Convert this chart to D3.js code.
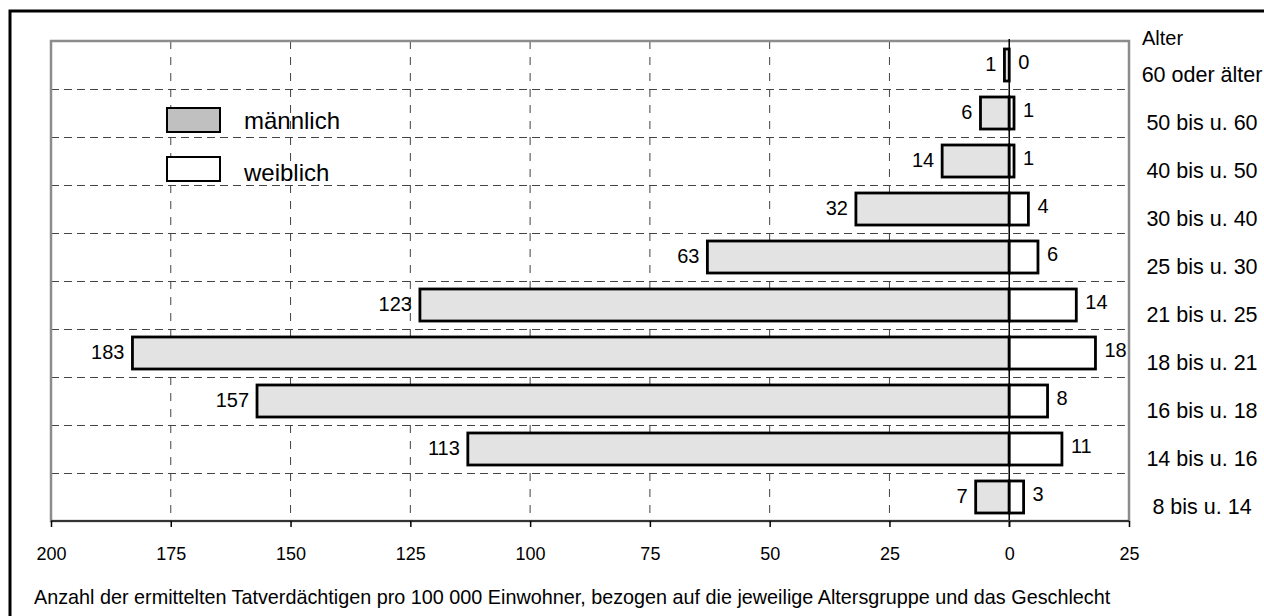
<!DOCTYPE html>
<html>
<head>
<meta charset="utf-8">
<script src="https://cdn.jsdelivr.net/npm/d3@7"></script>
<style>
  body { margin: 0; background: #fff; }
  svg { display: block; font-family: "Liberation Sans", Arial, sans-serif; }
</style>
</head>
<body>
<div id="chart"></div>
<script>
// age groups, top to bottom
const ageGroups = ["60 oder älter", "50 bis u. 60", "40 bis u. 50", "30 bis u. 40", "25 bis u. 30",
  "21 bis u. 25", "18 bis u. 21", "16 bis u. 18", "14 bis u. 16", "8 bis u. 14"];
const maleValues = [1, 6, 14, 32, 63, 123, 183, 157, 113, 7];
const femaleValues = [0, 1, 1, 4, 6, 14, 18, 8, 11, 3];
const tickValues = [-200, -175, -150, -125, -100, -75, -50, -25, 0, 25];
const legendLabels = ["männlich", "weiblich"];
const footerText = "Anzahl der ermittelten Tatverdächtigen pro 100 000 Einwohner, bezogen auf die jeweilige Altersgruppe und das Geschlecht";

const width = 1264, height = 616;
const plot = { left: 51, right: 1129, top: 41, bottom: 521 };

const svg = d3.select("#chart").append("svg")
  .attr("width", width)
  .attr("height", height);

// outer frame (runs off the picture at right and bottom)
svg.append("rect")
  .attr("x", 10).attr("y", 11)
  .attr("width", 1300).attr("height", 700)
  .attr("fill", "none")
  .attr("stroke", "#000")
  .attr("stroke-width", 3);

const x = d3.scaleLinear().domain([-200, 25]).range([plot.left, plot.right]);
const y = d3.scaleBand().domain(ageGroups).range([plot.top, plot.bottom]).paddingInner(0.333).paddingOuter(0.1667);
const band = d3.scaleBand().domain(ageGroups).range([plot.top, plot.bottom]);

// grid
const grid = svg.append("g");
grid.selectAll("line.v")
  .data(tickValues.filter(t => t > -200 && t < 0))
  .join("line")
  .attr("x1", d => x(d)).attr("x2", d => x(d))
  .attr("y1", plot.top).attr("y2", plot.bottom)
  .attr("stroke", "#444").attr("stroke-width", 1)
  .attr("stroke-dasharray", "8,8");
grid.selectAll("line.h")
  .data(ageGroups.slice(1))
  .join("line")
  .attr("x1", plot.left).attr("x2", plot.right)
  .attr("y1", d => band(d) + 0.5).attr("y2", d => band(d) + 0.5)
  .attr("stroke", "#444").attr("stroke-width", 1)
  .attr("stroke-dasharray", "8,5");

// plot border (gray)
svg.append("rect")
  .attr("x", plot.left).attr("y", plot.top)
  .attr("width", plot.right - plot.left).attr("height", plot.bottom - plot.top)
  .attr("fill", "none")
  .attr("stroke", "#8c8c8c")
  .attr("stroke-width", 2.5);

// bars
const bars = svg.append("g");
bars.selectAll("rect.m")
  .data(ageGroups)
  .join("rect")
  .attr("x", (d, i) => x(-maleValues[i]))
  .attr("y", d => y(d))
  .attr("width", (d, i) => x(0) - x(-maleValues[i]))
  .attr("height", y.bandwidth())
  .attr("fill", "#e3e3e3")
  .attr("stroke", "#000")
  .attr("stroke-width", 2.8);
bars.selectAll("rect.f")
  .data(ageGroups.filter((d, i) => femaleValues[i] > 0))
  .join("rect")
  .attr("x", x(0))
  .attr("y", d => y(d))
  .attr("width", d => x(femaleValues[ageGroups.indexOf(d)]) - x(0))
  .attr("height", y.bandwidth())
  .attr("fill", "#fff")
  .attr("stroke", "#000")
  .attr("stroke-width", 2.8);

// zero line
svg.append("line")
  .attr("x1", x(0)).attr("x2", x(0))
  .attr("y1", plot.top - 2).attr("y2", plot.bottom + 6)
  .attr("stroke", "#000").attr("stroke-width", 1.5);

// x axis
const axis = svg.append("g").attr("transform", `translate(0,${plot.bottom})`)
  .call(d3.axisBottom(x).tickValues(tickValues).tickSize(6).tickPadding(20).tickFormat(d => Math.abs(d)));
axis.select(".domain").attr("stroke", "#333").attr("stroke-width", 2).attr("d", `M${plot.left},0H${plot.right}`);
axis.selectAll(".tick line").attr("stroke", "#000").attr("stroke-width", 1.5);
axis.selectAll(".tick text")
  .attr("fill", "#000")
  .style("font-size", "18px")
  .style("font-family", "'Liberation Sans', Arial, sans-serif");

// value labels
const labels = svg.append("g").style("font-size", "20px").attr("fill", "#000");
labels.selectAll("text.m")
  .data(ageGroups)
  .join("text")
  .attr("x", (d, i) => x(-maleValues[i]) - 8)
  .attr("y", d => band(d) + band.bandwidth() / 2)
  .attr("dy", "0.3em")
  .attr("text-anchor", "end")
  .text((d, i) => maleValues[i]);
labels.selectAll("text.f")
  .data(ageGroups)
  .join("text")
  .attr("x", (d, i) => x(femaleValues[i]) + 9)
  .attr("y", d => band(d) + band.bandwidth() / 2)
  .attr("dy", "0.2em")
  .attr("text-anchor", "start")
  .text((d, i) => femaleValues[i]);

// category labels on the right
svg.append("text")
  .attr("x", 1142).attr("y", 45)
  .style("font-size", "20px")
  .text("Alter");
svg.append("g").selectAll("text")
  .data(ageGroups)
  .join("text")
  .attr("x", 1202)
  .attr("y", d => band(d) + band.bandwidth() / 2 + 9)
  .attr("dy", "0.35em")
  .attr("text-anchor", "middle")
  .style("font-size", "21.5px")
  .text(d => d);

// legend
const legend = svg.append("g");
legend.selectAll("rect")
  .data(legendLabels)
  .join("rect")
  .attr("x", 167)
  .attr("y", (d, i) => 108 + i * 49)
  .attr("width", 53).attr("height", 24)
  .attr("fill", (d, i) => i === 0 ? "#c0c0c0" : "#fff")
  .attr("stroke", "#000")
  .attr("stroke-width", 2);
legend.selectAll("text")
  .data(legendLabels)
  .join("text")
  .attr("x", 244)
  .attr("y", (d, i) => 129 + i * 52)
  .style("font-size", "24px")
  .text(d => d);

// footer note
svg.append("text")
  .attr("x", 34).attr("y", 604)
  .style("font-size", "19.8px")
  .text(footerText);
</script>
</body>
</html>
